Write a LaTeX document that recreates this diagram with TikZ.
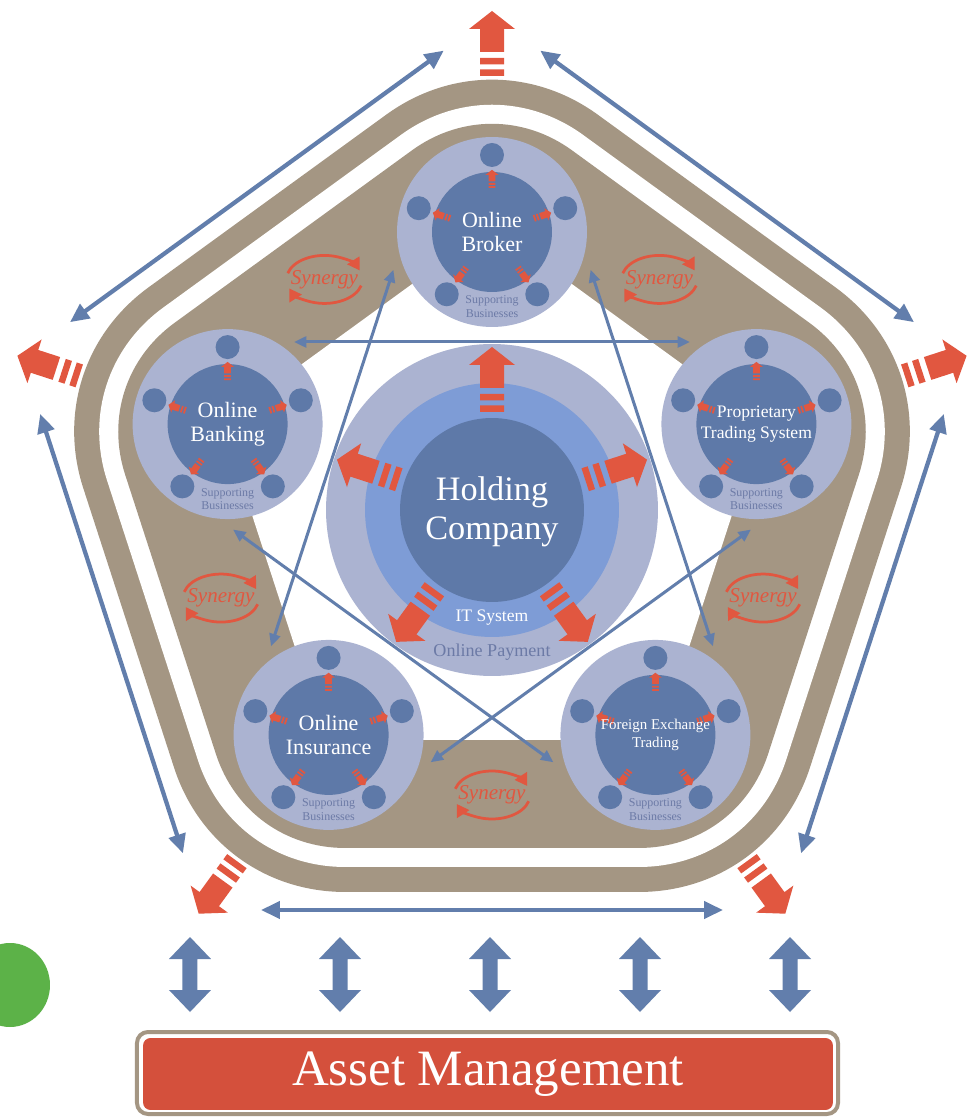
\documentclass[tikz,border=0pt]{standalone}
\usepackage{fontspec}
\setmainfont{Liberation Serif}
\usetikzlibrary{arrows.meta,calc}
\definecolor{tanband}{RGB}{164,150,131}
\definecolor{lavender}{RGB}{171,179,209}
\definecolor{midblue}{RGB}{126,156,214}
\definecolor{darkblue}{RGB}{94,121,168}
\definecolor{arrowblue}{RGB}{98,126,172}
\definecolor{redarrow}{RGB}{225,87,64}
\definecolor{boxred}{RGB}{212,80,60}
\definecolor{suptext}{RGB}{108,122,166}
\definecolor{scanmark}{RGB}{92,178,72}
\tikzset{
  satouter/.style={circle,fill=lavender,minimum size=3.8cm,inner sep=0pt},
  satinner/.style={circle,fill=darkblue,minimum size=2.4cm,inner sep=0pt},
  satdot/.style={circle,fill=darkblue,minimum size=0.48cm,inner sep=0pt},
  sattext/.style={text=white,align=center,font=\fontsize{12.5}{13.8}\selectfont},
  suplabel/.style={text=suptext,align=center,font=\fontsize{6.8}{7.9}\selectfont},
  starlink/.style={draw=arrowblue,line width=0.06cm,{Triangle[length=0.25cm,width=0.22cm]}-{Triangle[length=0.25cm,width=0.22cm]}},
  outerlink/.style={draw=arrowblue,line width=0.085cm,{Triangle[length=0.38cm,width=0.34cm]}-{Triangle[length=0.38cm,width=0.34cm]}},
  synlabel/.style={text=redarrow,font=\fontsize{12}{14}\selectfont\itshape},
  synarc/.style={draw=redarrow,line width=0.055cm,-{Triangle[length=0.24cm,width=0.28cm]}},
}
\newcommand{\stripearrow}[3][1]{%
  \fill[redarrow,shift={#2},rotate=#3,scale=#1] (0,-12) rectangle (6.5,12) (11.5,-12) rectangle (18,12)
    (24,-12) -- (47,-12) -- (47,-23) -- (65,0) -- (47,23) -- (47,12) -- (24,12) -- cycle;}
\begin{document}
\begin{tikzpicture}[x=0.02cm,y=0.02cm]
\useasboundingbox[fill=white] (-492,-608) rectangle (483,510);
\foreach \w/\c in {7.2cm/tanband,6.2cm/white,5.44cm/tanband}
  \filldraw[\c,line width=\w,line join=round] (90:249.7) -- (162:249.7) -- (234:249.7) -- (306:249.7) -- (18:249.7) -- cycle;
\fill[white] (90:284) -- (162:284) -- (234:284) -- (306:284) -- (18:284) -- cycle;

\node[circle,fill=lavender,minimum size=6.64cm,inner sep=0pt] (payment) at (0,0) {};
\node[circle,fill=midblue,minimum size=5.08cm,inner sep=0pt] (itsys) at (0,0) {};
\node[circle,fill=darkblue,minimum size=3.68cm,inner sep=0pt] (hub) at (0,0) {};
\node[text=white,align=center,font=\fontsize{19.5}{22}\selectfont] (hubtext) at (0,-2) {Holding\\Company};
\node[text=white,font=\fontsize{10}{12}\selectfont] (ittext) at (0,-108) {IT System};
\node[text=suptext,font=\fontsize{10.3}{12}\selectfont] (paytext) at (0,-142) {Online Payment};
\foreach \a in {90,162,234,306,18}{\stripearrow{(\a:98)}{\a}}

\foreach \a in {90,162,234,306,18}{
  \coordinate (st\a-a) at ($(\a:168)+(\a+90:198)$);
  \coordinate (st\a-b) at ($(\a:168)+(\a-90:198)$);
  \draw[starlink] (st\a-a) -- (st\a-b);
}

\foreach \a/\n in {90/broker,162/banking,18/propr,234/insur,306/forex}{
  \node[satouter] (\n) at (\a:278) {};
  \node[satinner] (\n-core) at (\n) {};
  \foreach \k in {0,...,4}{
    \node[satdot] (\n-dot\k) at ($(\n)+(90+72*\k:77)$) {};
    \stripearrow[0.28]{($(\n)+(90+72*\k:44)$)}{90+72*\k}
  }
  \node[suplabel] (\n-sup) at ($(\n)+(0,-75)$) {Supporting\\Businesses};
}
\node[sattext] (broker-txt) at (broker) {Online\\Broker};
\node[sattext] (banking-txt) at (banking) {Online\\Banking};
\node[sattext] (insur-txt) at (insur) {Online\\Insurance};
\node[sattext,font=\fontsize{10}{12}\selectfont] (propr-txt) at (propr) {Proprietary\\Trading System};
\node[sattext,font=\fontsize{8.5}{10.4}\selectfont] (forex-txt) at (forex) {Foreign Exchange\\Trading};

\foreach \a/\n in {54/syn-a,126/syn-b,198/syn-c,270/syn-d,342/syn-e}{
  \node[synlabel] (\n) at (\a:285) {Synergy};
  \draw[synarc] ($(\n)+(165:38 and 24)$) arc[start angle=165,end angle=22,x radius=38,y radius=24];
  \draw[synarc] ($(\n)+(-15:38 and 24)$) arc[start angle=-15,end angle=-158,x radius=38,y radius=24];
}

\foreach \a in {90,162,234,306,18}{\stripearrow{(\a:434)}{\a}}
\foreach \a in {54,126,198,270,342}{
  \coordinate (ol\a-a) at ($(\a:400)+(\a+90:231)$);
  \coordinate (ol\a-b) at ($(\a:400)+(\a-90:231)$);
  \draw[outerlink] (ol\a-a) -- (ol\a-b);
}

\foreach \x in {-302,-152,-2,148,298}
  \fill[arrowblue] (\x,-427) -- (\x+21,-449) -- (\x+7.5,-449) -- (\x+7.5,-480) -- (\x+21,-480) -- (\x,-502)
    -- (\x-21,-480) -- (\x-7.5,-480) -- (\x-7.5,-449) -- (\x-21,-449) -- cycle;
\draw[tanband,line width=0.08cm,rounded corners=0.22cm] (-355,-522) rectangle (346,-604);
\node[fill=boxred,rounded corners=0.15cm,minimum width=13.8cm,minimum height=1.44cm,text=white,font=\fontsize{29}{32}\selectfont] (asset) at (-4,-564) {Asset Management};
\fill[scanmark] (-482,-475) ellipse [x radius=40,y radius=42];
\end{tikzpicture}
\end{document}
